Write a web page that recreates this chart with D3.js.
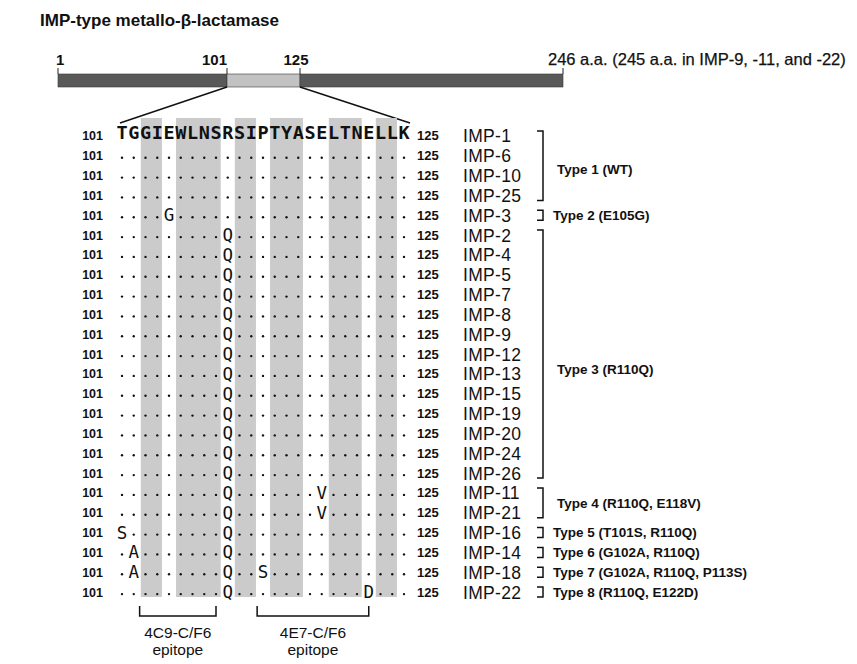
<!DOCTYPE html>
<html>
<head>
<meta charset="utf-8">
<script src="https://cdn.jsdelivr.net/npm/d3@7"></script>
<style>
  body { margin: 0; background: #fff; }
  svg { display: block; }
</style>
</head>
<body>
<svg id="chart" width="857" height="664"></svg>
<script>
// ---- data ----
const title = "IMP-type metallo-β-lactamase";
const domainMarks = [1, 101, 125, 246];
const lengthNote = "246 a.a. (245 a.a. in IMP-9, -11, and -22)";

const referenceSeq = "TGGIEWLNSRSIPTYASELTNELLK";
const firstResidue = 101;
const lastResidue = 125;

const variantNames = [
  "IMP-1", "IMP-6", "IMP-10", "IMP-25", "IMP-3",
  "IMP-2", "IMP-4", "IMP-5", "IMP-7", "IMP-8", "IMP-9", "IMP-12", "IMP-13",
  "IMP-15", "IMP-19", "IMP-20", "IMP-24", "IMP-26",
  "IMP-11", "IMP-21", "IMP-16", "IMP-14", "IMP-18", "IMP-22"
];

// '.' = identical to IMP-1
const alignment = [
  "TGGIEWLNSRSIPTYASELTNELLK",
  ".........................",
  ".........................",
  ".........................",
  "....G....................",
  ".........Q...............",
  ".........Q...............",
  ".........Q...............",
  ".........Q...............",
  ".........Q...............",
  ".........Q...............",
  ".........Q...............",
  ".........Q...............",
  ".........Q...............",
  ".........Q...............",
  ".........Q...............",
  ".........Q...............",
  ".........Q...............",
  ".........Q.......V.......",
  ".........Q.......V.......",
  "S........Q...............",
  ".A.......Q...............",
  ".A.......Q..S............",
  ".........Q...........D..."
];

// shaded residue blocks [start, end]
const shadedBlocks = [[103, 104], [106, 109], [111, 112], [114, 116], [119, 121], [123, 124]];

const typeLabels = [
  "Type 1 (WT)", "Type 2 (E105G)", "Type 3 (R110Q)", "Type 4 (R110Q, E118V)",
  "Type 5 (T101S, R110Q)", "Type 6 (G102A, R110Q)",
  "Type 7 (G102A, R110Q, P113S)", "Type 8 (R110Q, E122D)"
];
const typeMembers = [
  ["IMP-1", "IMP-6", "IMP-10", "IMP-25"],
  ["IMP-3"],
  ["IMP-2", "IMP-4", "IMP-5", "IMP-7", "IMP-8", "IMP-9", "IMP-12", "IMP-13",
   "IMP-15", "IMP-19", "IMP-20", "IMP-24", "IMP-26"],
  ["IMP-11", "IMP-21"],
  ["IMP-16"], ["IMP-14"], ["IMP-18"], ["IMP-22"]
];

const epitopeNames = ["4C9-C/F6", "4E7-C/F6"];
const epitopeSpans = [[103, 109], [113, 122]];

// ---- drawing ----
const svg = d3.select("#chart");
const sans = "'Liberation Sans', Arial, Helvetica, sans-serif";
const mono = "'DejaVu Sans Mono', 'Liberation Mono', monospace";

// title
svg.append("text")
  .attr("x", 40).attr("y", 26)
  .attr("font-family", sans).attr("font-size", 17).attr("font-weight", "bold")
  .attr("fill", "#111")
  .text(title);

// full-length protein bar (the 101-125 window is drawn enlarged)
const xBar = d3.scaleLinear().domain(domainMarks).range([58, 227, 300, 563]);
const barY = 74, barH = 13;
const segments = [
  { from: domainMarks[0], to: domainMarks[1], fill: "#595959" },
  { from: domainMarks[1], to: domainMarks[2], fill: "#c2c2c2" },
  { from: domainMarks[2], to: domainMarks[3], fill: "#595959" }
];
svg.append("g").selectAll("rect").data(segments).join("rect")
  .attr("x", d => xBar(d.from)).attr("y", barY)
  .attr("width", d => xBar(d.to) - xBar(d.from)).attr("height", barH)
  .attr("fill", d => d.fill)
  .attr("stroke", "#3a3a3a").attr("stroke-width", 0.6);

svg.append("g").selectAll("line").data(domainMarks).join("line")
  .attr("x1", d => xBar(d)).attr("x2", d => xBar(d))
  .attr("y1", barY - 6).attr("y2", barY)
  .attr("stroke", "#222").attr("stroke-width", 1);

const markAnchor = ["start", "end", "middle"];
svg.append("g").selectAll("text").data(domainMarks.slice(0, 3)).join("text")
  .attr("x", (d, i) => xBar(d) + (i === 0 ? -2 : i === 2 ? -4 : 0))
  .attr("y", 65)
  .attr("text-anchor", (d, i) => markAnchor[i])
  .attr("font-family", sans).attr("font-size", 15).attr("font-weight", "bold")
  .attr("fill", "#111")
  .text(d => d);

svg.append("text")
  .attr("x", xBar(domainMarks[3]) - 15).attr("y", 65)
  .attr("font-family", sans).attr("font-size", 16.5).attr("fill", "#111")
  .attr("stroke", "#111").attr("stroke-width", 0.25)
  .text(lengthNote);

// alignment scales
const residues = d3.range(firstResidue, lastResidue + 1);
const colX = d3.scalePoint().domain(residues).range([122, 404]);
const step = colX.step();
const rowBand = d3.scaleBand().domain(variantNames).range([126, 602]);
const rowY = n => rowBand(n) + rowBand.bandwidth() / 2;

// zoom-in connector lines
svg.append("g").selectAll("line")
  .data([[xBar(firstResidue), colX(firstResidue) - 2], [xBar(lastResidue), colX(lastResidue) + 6]])
  .join("line")
  .attr("x1", d => d[0]).attr("y1", barY + barH)
  .attr("x2", d => d[1]).attr("y2", 123)
  .attr("stroke", "#111").attr("stroke-width", 1.5);

// shaded column blocks
const shadeTop = rowBand.range()[0] - 8;
const shadeBottom = rowBand.range()[1] - 5;
svg.append("g").selectAll("rect").data(shadedBlocks).join("rect")
  .attr("x", d => colX(d[0]) - step * 0.4)
  .attr("width", d => colX(d[1]) - colX(d[0]) + step * 0.8)
  .attr("y", shadeTop).attr("height", shadeBottom - shadeTop)
  .attr("fill", "#cbcbcb");

// residues / identity dots
const cells = [];
alignment.forEach((seq, r) => {
  seq.split("").forEach((ch, c) => {
    cells.push({ name: variantNames[r], row: r, pos: residues[c], ch });
  });
});

const gAln = svg.append("g");
gAln.selectAll("circle").data(cells.filter(d => d.ch === ".")).join("circle")
  .attr("cx", d => colX(d.pos)).attr("cy", d => rowY(d.name) + 2)
  .attr("r", 1.2).attr("fill", "#111");

gAln.selectAll("text").data(cells.filter(d => d.ch !== ".")).join("text")
  .attr("x", d => colX(d.pos))
  .attr("y", d => rowY(d.name) + (d.row === 0 ? 3 : 6))
  .attr("text-anchor", "middle")
  .attr("font-family", mono)
  .attr("font-size", d => d.row === 0 ? 18.5 : 17.5)
  .attr("font-weight", d => d.row === 0 ? "bold" : "normal")
  .attr("fill", "#111")
  .text(d => d.ch);

// start / end numbers and variant names
const gRows = svg.append("g").selectAll("g").data(variantNames).join("g")
  .attr("transform", d => `translate(0,${rowY(d)})`);
gRows.append("text")
  .attr("x", 103).attr("y", 4.5).attr("text-anchor", "end")
  .attr("font-family", sans).attr("font-size", 12.5).attr("font-weight", "bold")
  .attr("fill", "#111").text(firstResidue);
gRows.append("text")
  .attr("x", 417).attr("y", 4.5)
  .attr("font-family", sans).attr("font-size", 13).attr("font-weight", "bold")
  .attr("fill", "#111").text(lastResidue);
gRows.append("text")
  .attr("x", 463).attr("y", 6.5)
  .attr("font-family", sans).attr("font-size", 17.5).attr("letter-spacing", 0.3)
  .attr("fill", "#111").text(d => d);

// type brackets and labels
const labelNudge = { "Type 1 (WT)": 4, "Type 3 (R110Q)": 15 };
const gTypes = svg.append("g");
typeLabels.forEach((label, i) => {
  const members = typeMembers[i];
  const top = rowY(members[0]) - 5;
  const bottom = rowY(members[members.length - 1]) + 5;
  const single = members.length === 1;
  const bx = 543;
  gTypes.append("path")
    .attr("d", `M${bx - 6},${top} H${bx} V${bottom} H${bx - 6}`)
    .attr("fill", "none").attr("stroke", "#111").attr("stroke-width", 1.5);
  gTypes.append("text")
    .attr("x", single ? 553 : 557)
    .attr("y", (top + bottom) / 2 + (labelNudge[label] || 0))
    .attr("dy", "0.35em")
    .attr("font-family", sans).attr("font-size", 13.5).attr("font-weight", "bold")
    .attr("fill", "#111")
    .text(label);
});

// epitope brackets
const gEpi = svg.append("g");
epitopeSpans.forEach((span, i) => {
  const x1 = colX(span[0]) - step / 2;
  const x2 = colX(span[1]);
  gEpi.append("path")
    .attr("d", `M${x1},606 V616 H${x2} V606`)
    .attr("fill", "none").attr("stroke", "#111").attr("stroke-width", 1.5);
  const cx = (x1 + x2) / 2;
  gEpi.append("text")
    .attr("x", cx).attr("y", 638).attr("text-anchor", "middle")
    .attr("font-family", sans).attr("font-size", 15.5).attr("fill", "#111")
    .text(epitopeNames[i]);
  gEpi.append("text")
    .attr("x", cx).attr("y", 655).attr("text-anchor", "middle")
    .attr("font-family", sans).attr("font-size", 15.5).attr("fill", "#111")
    .text("epitope");
});
</script>
</body>
</html>
